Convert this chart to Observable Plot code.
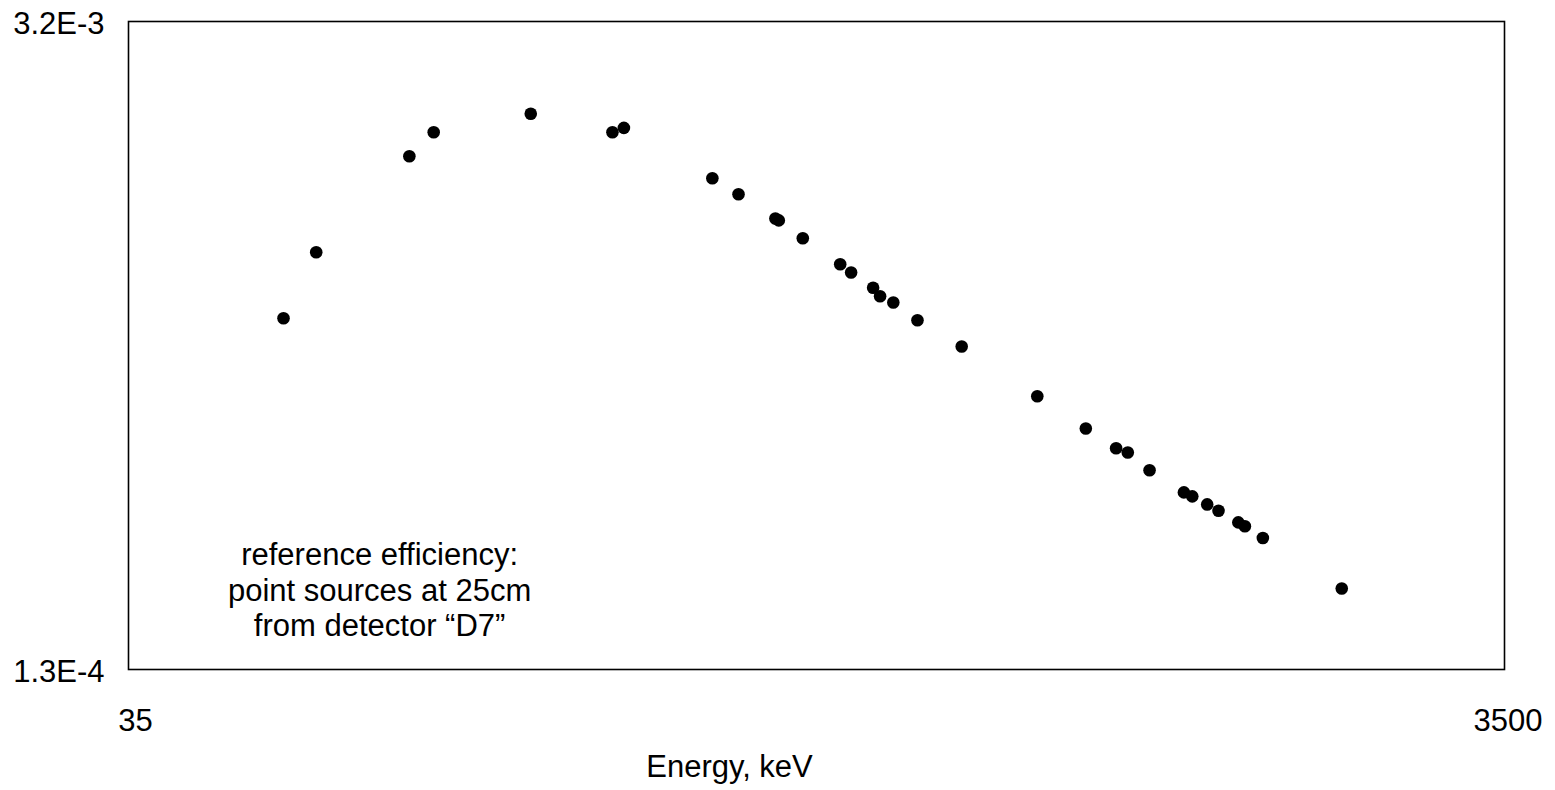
<!DOCTYPE html>
<html>
<head>
<meta charset="utf-8">
<script src="https://cdn.jsdelivr.net/npm/d3@7"></script>
<script src="https://cdn.jsdelivr.net/npm/@observablehq/plot@0.6"></script>
<style>
  html, body { margin: 0; padding: 0; background: #fff; }
  #chart svg { display: block; }
</style>
</head>
<body>
<div id="chart"></div>
<script>
const energy = [58.8, 65.6, 89.6, 97.2, 134.5, 176.8, 183.7,
  247, 269.6, 305, 308.5, 334.3, 378.9, 393, 423, 433, 452.6, 490.7, 569,
  732.8, 862, 954, 992, 1067, 1197, 1231, 1294, 1344, 1436, 1468, 1559, 2030];
// Full-energy-peak efficiency
const efficiency = [7.38e-4, 1.023e-3, 1.644e-3, 1.851e-3, 2.028e-3, 1.851e-3, 1.891e-3,
  1.474e-3, 1.362e-3, 1.208e-3, 1.197e-3, 1.096e-3, 9.64e-4, 9.25e-4, 8.58e-4, 8.23e-4, 7.98e-4, 7.31e-4, 6.42e-4,
  5.02e-4, 4.28e-4, 3.88e-4, 3.80e-4, 3.48e-4, 3.12e-4, 3.06e-4, 2.94e-4, 2.85e-4, 2.69e-4, 2.64e-4, 2.49e-4, 1.94e-4];

const xDomain = [35, 3500];
const yDomain = [1.3e-4, 3.2e-3];
const xTickLow = [35];
const xTickHigh = [3500];
const yTicks = [1.3e-4, 3.2e-3];
const xLabel = "Energy, keV";
const noteLines = ["reference efficiency:", "point sources at 25cm", "from detector \u201cD7\u201d"];
const notePos = [{x: 81.1, y: 1.93e-4}];

const points = energy.map((e, i) => ({e, eff: efficiency[i]}));
const font = "'Liberation Sans', Arial, Helvetica, sans-serif";

const chart = Plot.plot({
  width: 1555,
  height: 790,
  marginLeft: 128,
  marginRight: 51,
  marginTop: 21,
  marginBottom: 121,
  style: {fontFamily: font, fontSize: "31px", color: "#000", background: "#fff"},
  x: {type: "log", domain: xDomain},
  y: {type: "log", domain: yDomain},
  marks: [
    Plot.axisX({ticks: xTickLow, tickSize: 0, tickPadding: 39, label: null, dx: 7,
      tickFormat: d => String(d), fontSize: 31}),
    Plot.axisX({ticks: xTickHigh, tickSize: 0, tickPadding: 39, label: null, dx: 3.5,
      tickFormat: d => String(d), fontSize: 31}),
    Plot.axisY({ticks: yTicks, tickSize: 0, tickPadding: 24, label: null, dy: 3,
      tickFormat: d => d.toExponential(1).toUpperCase(), fontSize: 31}),
    Plot.frame({stroke: "#000", strokeWidth: 1.6}),
    Plot.dot(points, {x: "e", y: "eff", r: 6.3, fill: "#000", stroke: "none"}),
    Plot.text(notePos, {x: "x", y: "y", text: () => noteLines.join("\n"),
      lineAnchor: "middle", lineHeight: 1.145, fontSize: 31, fill: "#000", textAnchor: "middle"}),
    Plot.text([xLabel], {frameAnchor: "bottom", dx: -87, dy: 98, text: d => d,
      lineAnchor: "middle", fontSize: 31, fill: "#000"})
  ]
});
document.getElementById("chart").appendChild(chart);
</script>
</body>
</html>
